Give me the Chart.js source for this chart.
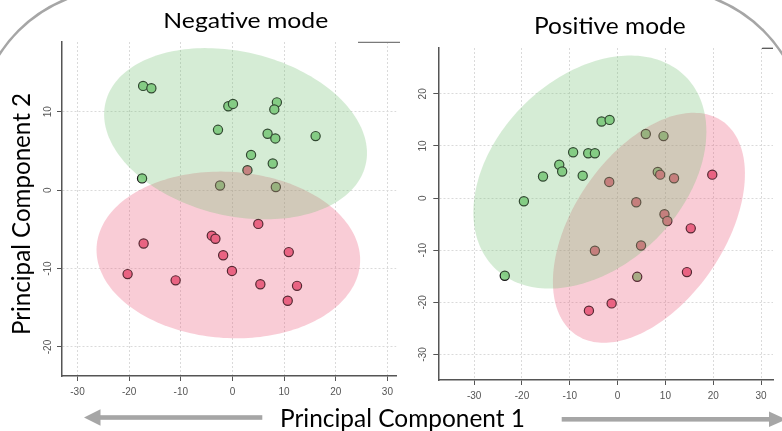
<!DOCTYPE html>
<html>
<head>
<meta charset="utf-8">
<script src="https://cdn.jsdelivr.net/npm/chart.js@4.4.1/dist/chart.umd.min.js"></script>
<style>
html,body{margin:0;padding:0;background:#fff;}
#wrap{position:relative;width:782px;height:431px;overflow:hidden;background:#fff;}
#c1{position:absolute;left:0;top:0;width:402px;height:431px;}
#c2{position:absolute;left:400px;top:0;width:382px;height:431px;}
#deco{position:absolute;left:0;top:0;}
</style>
</head>
<body>
<div id="wrap">
<canvas id="c1" width="402" height="431"></canvas>
<canvas id="c2" width="382" height="431"></canvas>
<svg id="deco" width="782" height="431" xmlns="http://www.w3.org/2000/svg">
  <rect x="-23" y="-11" width="828" height="900" rx="142" ry="142" fill="none" stroke="#a6a6a6" stroke-width="2.5"/>
  <line x1="358" y1="42.3" x2="400" y2="42.3" stroke="#7a7a7a" stroke-width="1.3"/>
  <line x1="762" y1="48.3" x2="773" y2="48.3" stroke="#555" stroke-width="1.3"/>
  <rect x="99" y="415.2" width="163.3" height="4.6" fill="#a6a6a6"/>
  <polygon points="84,417.5 100.5,409.3 100.5,425.7" fill="#a6a6a6"/>
  <rect x="561.7" y="417" width="208" height="4.6" fill="#a6a6a6"/>
  <polygon points="786,419.3 769,411.5 769,427.1" fill="#a6a6a6"/>
  <text x="163.3" y="28.3" font-family="Lato" font-size="22" fill="#000" textLength="165" lengthAdjust="spacingAndGlyphs">Negative mode</text>
  <text x="534" y="34" font-family="Lato" font-size="23.5" fill="#000" textLength="151.7" lengthAdjust="spacingAndGlyphs">Positive mode</text>
  <text x="280" y="426.7" font-family="Lato" font-size="25.5" fill="#000" textLength="245" lengthAdjust="spacingAndGlyphs">Principal Component 1</text>
  <text transform="translate(30,335) rotate(-90)" font-family="Lato" font-size="25.5" fill="#000" textLength="242" lengthAdjust="spacingAndGlyphs">Principal Component 2</text>
</svg>
</div>
<script>
// ---------- data ----------
const negXTicks = [-30, -20, -10, 0, 10, 20, 30];
const negYTicks = [-20, -10, 0, 10];
const posXTicks = [-30, -20, -10, 0, 10, 20, 30];
const posYTicks = [-30, -20, -10, 0, 10, 20];

const negGreenX = [-17.3, -15.7, -0.8, 0.1, 8.6, 8.1, -2.8, 6.8, 8.3, 16.1, 3.6, 7.8, -17.5, -2.4, 8.4];
const negGreenY = [13.3, 13.0, 10.7, 11.0, 11.2, 10.3, 7.7, 7.2, 6.6, 6.9, 4.5, 3.4, 1.5, 0.6, 0.4];
const negRedX = [2.9, 5.0, -17.2, -4.0, -3.3, -1.8, 10.9, -20.3, -11.0, -0.1, 5.4, 12.5, 10.7];
const negRedY = [2.55, -4.3, -6.8, -5.8, -6.2, -8.3, -7.9, -10.7, -11.5, -10.3, -12.0, -12.2, -14.1];

const posGreenX = [-3.35, -1.67, 5.9, 9.6, -9.3, -6.15, -4.75, -12.2, -11.6, -15.6, -7.3, 8.4, -19.6, -23.6, 4.1];
const posGreenY = [14.7, 15.0, 12.3, 11.9, 8.8, 8.6, 8.6, 6.4, 5.1, 4.15, 4.3, 5.0, -0.6, -14.9, -15.1];
const posRedX = [8.9, 11.8, 19.8, -1.75, 3.9, 9.8, 10.4, 15.3, 4.9, -4.75, 14.5, -1.25, -6.0];
const posRedY = [4.5, 3.8, 4.5, 3.1, -0.8, -3.1, -4.4, -5.8, -9.1, -10.1, -14.2, -20.2, -21.6];

// confidence ellipses: [centerX, centerY, axis1X, axis1Y, axis2X, axis2Y] in data units
const negRedEllipse = [-0.8, -8.26, 25.5, -1.04, -0.97, -10.58];
const negGreenEllipse = [0.6, 7.2, 25.2, -3.9, -3.5, -10.2];
const posRedEllipse = [6.55, -5.7, 15.3, 20.5, -13.0, 8.16];
const posGreenEllipse = [-5.8, 5.0, 19.99, 18.34, -13.93, 12.78];

// ---------- styling ----------
const GREEN_PT = 'rgb(140,210,140)';
const RED_PT = 'rgb(232,105,135)';
const GREEN_FILL = 'rgba(115,192,115,0.3)';
const RED_FILL = 'rgba(235,85,118,0.3)';
const TICK_FONT = '10px "Liberation Sans", Arial, sans-serif';

function pts(xs, ys) { return xs.map((x, i) => ({ x: x, y: ys[i] })); }

function ellipsePlugin(list) {
  return {
    id: 'ellipses',
    afterDatasetsDraw(chart) {
      const { ctx, chartArea, scales } = chart;
      const sx = scales.x, sy = scales.y;
      ctx.save();
      ctx.beginPath();
      ctx.rect(chartArea.left, chartArea.top, chartArea.right - chartArea.left, chartArea.bottom - chartArea.top);
      ctx.clip();
      list.forEach(item => {
        const e = item.e;
        ctx.beginPath();
        const n = 200;
        for (let i = 0; i <= n; i++) {
          const t = i / n * 2 * Math.PI;
          const dx = e[0] + e[2] * Math.cos(t) + e[4] * Math.sin(t);
          const dy = e[1] + e[3] * Math.cos(t) + e[5] * Math.sin(t);
          const px = sx.getPixelForValue(dx), py = sy.getPixelForValue(dy);
          if (i === 0) ctx.moveTo(px, py); else ctx.lineTo(px, py);
        }
        ctx.closePath();
        ctx.fillStyle = item.color;
        ctx.fill();
      });
      ctx.restore();
    }
  };
}

function yLabelPlugin(offset) {
  return {
    id: 'yLabels',
    afterDraw(chart) {
      const s = chart.scales.y, ctx = chart.ctx;
      ctx.save();
      ctx.fillStyle = '#555';
      ctx.font = TICK_FONT;
      ctx.textAlign = 'center';
      ctx.textBaseline = 'middle';
      s.ticks.forEach(t => {
        const y = s.getPixelForValue(t.value);
        ctx.save();
        ctx.translate(s.right - offset, y);
        ctx.rotate(-Math.PI / 2);
        ctx.fillText(String(t.value), 0, 0);
        ctx.restore();
      });
      ctx.restore();
    }
  };
}

function makeChart(id, cfg) {
  const axisCommon = {
    type: 'linear',
    grid: { color: '#dadada', lineWidth: 1, tickLength: 5, tickColor: '#555', tickWidth: 1 },
    border: { display: true, color: '#555', width: 1.5, dash: [2, 2] }
  };
  return new Chart(document.getElementById(id), {
    type: 'scatter',
    data: {
      datasets: [
        { label: 'red', data: pts(cfg.redX, cfg.redY), backgroundColor: RED_PT, borderColor: '#151515', borderWidth: 1.2, pointRadius: 4.6, pointHoverRadius: 4.6 },
        { label: 'green', data: pts(cfg.greenX, cfg.greenY), backgroundColor: GREEN_PT, borderColor: '#151515', borderWidth: 1.2, pointRadius: 4.6, pointHoverRadius: 4.6 }
      ]
    },
    options: {
      responsive: false,
      animation: false,
      devicePixelRatio: 1,
      layout: { padding: cfg.padding },
      plugins: { legend: { display: false }, tooltip: { enabled: false }, title: { display: false } },
      scales: {
        x: Object.assign({}, axisCommon, {
          min: cfg.xmin, max: cfg.xmax,
          afterBuildTicks: s => { s.ticks = cfg.xTicks.map(v => ({ value: v })); },
          afterFit: s => { s.height = cfg.xh; },
          ticks: { color: '#555', font: { family: '"Liberation Sans", Arial, sans-serif', size: 10 }, padding: 5, maxRotation: 0, minRotation: 0, autoSkip: false }
        }),
        y: Object.assign({}, axisCommon, {
          min: cfg.ymin, max: cfg.ymax,
          afterBuildTicks: s => { s.ticks = cfg.yTicks.map(v => ({ value: v })); },
          afterFit: s => { s.width = cfg.yw; },
          ticks: { display: false }
        })
      }
    },
    plugins: [ellipsePlugin(cfg.ellipses), yLabelPlugin(cfg.yLabelOffset)]
  });
}

makeChart('c1', {
  redX: negRedX, redY: negRedY, greenX: negGreenX, greenY: negGreenY,
  xmin: -33.0, xmax: 31.7, ymin: -23.7, ymax: 18.9,
  xTicks: negXTicks, yTicks: negYTicks,
  padding: { left: 0, right: 3, top: 42, bottom: 0 }, xh: 55, yw: 62, yLabelOffset: 13.3,
  ellipses: [{ e: negRedEllipse, color: RED_FILL }, { e: negGreenEllipse, color: GREEN_FILL }]
});

makeChart('c2', {
  redX: posRedX, redY: posRedY, greenX: posGreenX, greenY: posGreenY,
  xmin: -37.5, xmax: 32.5, ymin: -34.9, ymax: 28.8,
  xTicks: posXTicks, yTicks: posYTicks,
  padding: { left: 0, right: 9, top: 48, bottom: 0 }, xh: 51, yw: 38.3, yLabelOffset: 15.3,
  ellipses: [{ e: posRedEllipse, color: RED_FILL }, { e: posGreenEllipse, color: GREEN_FILL }]
});
</script>
</body>
</html>
